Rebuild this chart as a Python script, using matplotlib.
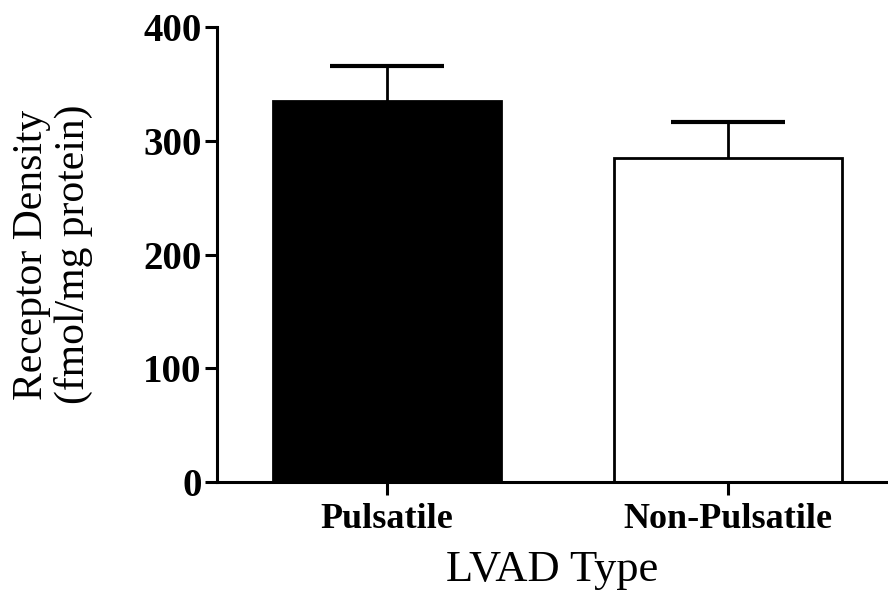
import matplotlib
matplotlib.use("Agg")
import matplotlib.pyplot as plt

categories = ["Pulsatile", "Non-Pulsatile"]
means = [335, 285]
sems = [31, 32]
fill_colors = ["black", "white"]
y_ticks = [0, 100, 200, 300, 400]

plt.rcParams["font.family"] = ["Liberation Serif", "DejaVu Serif"]

fig = plt.figure(figsize=(8.88, 5.95), dpi=100)
ax = fig.add_axes([0.2444, 0.19, 0.7556, 0.764])

x = list(range(len(categories)))
bar_w = 0.67
ax.bar(x, means, width=bar_w, color=fill_colors, edgecolor="black",
       linewidth=2, zorder=2)

# upper-only error bars with caps half the bar width
for xi, m, s in zip(x, means, sems):
    ax.vlines(xi, m, m + s, color="black", linewidth=2, zorder=3)
    ax.hlines(m + s, xi - bar_w / 4, xi + bar_w / 4, color="black",
              linewidth=3, zorder=3)

ax.set_xlim(-0.4985, 1.469)
ax.set_ylim(0, 400)
ax.set_yticks(y_ticks)
ax.set_yticklabels([str(v) for v in y_ticks], fontsize=28, fontweight="bold")
ax.set_xticks(x)
ax.set_xticklabels(categories, fontsize=26, fontweight="bold")

for side in ("top", "right"):
    ax.spines[side].set_visible(False)
for side in ("left", "bottom"):
    ax.spines[side].set_linewidth(2.2)
ax.tick_params(axis="both", length=9, width=2.2, direction="out")
ax.tick_params(axis="y", pad=2)
ax.tick_params(axis="x", pad=6)

ax.set_ylabel("Receptor Density\n(fmol/mg protein)", fontsize=30,
              linespacing=1.12, labelpad=36)
ax.set_xlabel("LVAD Type", fontsize=32, labelpad=10)

fig.savefig("out.png", dpi=100)
